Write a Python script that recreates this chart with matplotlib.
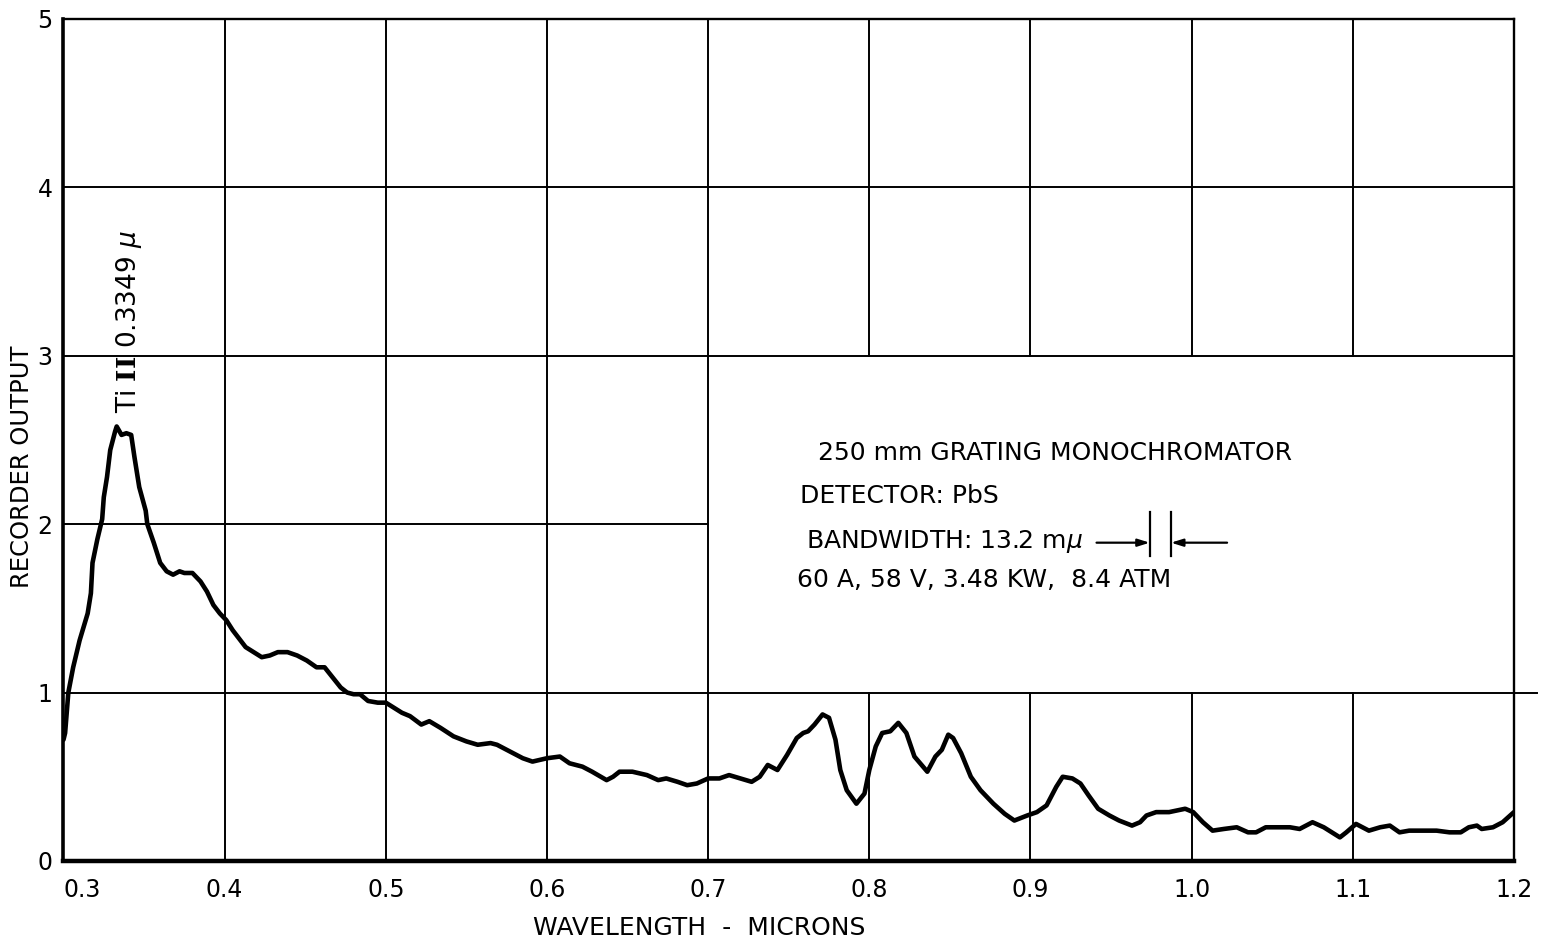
import matplotlib.pyplot as plt

# PbS detector response of the 250 mm grating monochromator
wavelength = [
    0.300, 0.301, 0.303, 0.306, 0.310, 0.315, 0.317, 0.318, 0.321, 0.324,
    0.325, 0.327, 0.329, 0.332, 0.333, 0.336, 0.339, 0.342, 0.344, 0.347,
    0.351, 0.352, 0.356, 0.360, 0.364, 0.368, 0.372, 0.375, 0.380, 0.385,
    0.389, 0.393, 0.397, 0.401, 0.405, 0.413, 0.418, 0.423, 0.428, 0.433,
    0.439, 0.445, 0.451, 0.457, 0.462, 0.467, 0.472, 0.476, 0.480, 0.484,
    0.489, 0.495, 0.500, 0.505, 0.510, 0.515, 0.522, 0.527, 0.534, 0.542,
    0.550, 0.557, 0.565, 0.569, 0.577, 0.585, 0.591, 0.600, 0.608, 0.614,
    0.622, 0.628, 0.637, 0.641, 0.645, 0.653, 0.662, 0.669, 0.674, 0.681,
    0.687, 0.693, 0.700, 0.707, 0.713, 0.720, 0.727, 0.732, 0.737, 0.743,
    0.749, 0.755, 0.759, 0.762, 0.766, 0.771, 0.775, 0.779, 0.782, 0.786,
    0.792, 0.797, 0.800, 0.804, 0.808, 0.813, 0.818, 0.823, 0.828, 0.836,
    0.841, 0.845, 0.849, 0.852, 0.857, 0.863, 0.869, 0.877, 0.884, 0.890,
    0.898, 0.904, 0.910, 0.916, 0.920, 0.926, 0.931, 0.936, 0.942, 0.949,
    0.955, 0.963, 0.968, 0.972, 0.978, 0.986, 0.996, 1.001, 1.007, 1.013,
    1.020, 1.028, 1.035, 1.040, 1.046, 1.054, 1.061, 1.067, 1.075, 1.082,
    1.092, 1.096, 1.102, 1.110, 1.117, 1.123, 1.129, 1.135, 1.143, 1.152,
    1.160, 1.167, 1.172, 1.177, 1.180, 1.187, 1.193, 1.200,
]
output = [
    0.72, 0.76, 1.00, 1.15, 1.31, 1.47, 1.59, 1.77, 1.91, 2.03,
    2.16, 2.28, 2.44, 2.55, 2.58, 2.53, 2.54, 2.53, 2.40, 2.22,
    2.08, 2.00, 1.89, 1.77, 1.72, 1.70, 1.72, 1.71, 1.71, 1.66,
    1.60, 1.52, 1.47, 1.43, 1.37, 1.27, 1.24, 1.21, 1.22, 1.24,
    1.24, 1.22, 1.19, 1.15, 1.15, 1.09, 1.03, 1.00, 0.99, 0.99,
    0.95, 0.94, 0.94, 0.91, 0.88, 0.86, 0.81, 0.83, 0.79, 0.74,
    0.71, 0.69, 0.70, 0.69, 0.65, 0.61, 0.59, 0.61, 0.62, 0.58,
    0.56, 0.53, 0.48, 0.50, 0.53, 0.53, 0.51, 0.48, 0.49, 0.47,
    0.45, 0.46, 0.49, 0.49, 0.51, 0.49, 0.47, 0.50, 0.57, 0.54,
    0.63, 0.73, 0.76, 0.77, 0.81, 0.87, 0.85, 0.72, 0.54, 0.42,
    0.34, 0.40, 0.54, 0.68, 0.76, 0.77, 0.82, 0.76, 0.62, 0.53,
    0.62, 0.66, 0.75, 0.73, 0.64, 0.50, 0.42, 0.34, 0.28, 0.24,
    0.27, 0.29, 0.33, 0.44, 0.50, 0.49, 0.46, 0.39, 0.31, 0.27,
    0.24, 0.21, 0.23, 0.27, 0.29, 0.29, 0.31, 0.29, 0.23, 0.18,
    0.19, 0.20, 0.17, 0.17, 0.20, 0.20, 0.20, 0.19, 0.23, 0.20,
    0.14, 0.17, 0.22, 0.18, 0.20, 0.21, 0.17, 0.18, 0.18, 0.18,
    0.17, 0.17, 0.20, 0.21, 0.19, 0.20, 0.23, 0.29,
]

x_ticks = [0.3, 0.4, 0.5, 0.6, 0.7, 0.8, 0.9, 1.0, 1.1, 1.2]
x_tick_labels = ["0.3", "0.4", "0.5", "0.6", "0.7", "0.8", "0.9", "1.0", "1.1", "1.2"]
y_ticks = [0, 1, 2, 3, 4, 5]

line_peak = 0.3349          # Ti II line, microns
bandwidth = 0.0132          # 13.2 millimicrons
bandwidth_left = 0.974

plt.rcParams['font.family'] = ['DejaVu Sans']
plt.rcParams['mathtext.fontset'] = 'custom'
plt.rcParams['mathtext.rm'] = 'DejaVu Sans'
plt.rcParams['mathtext.it'] = 'DejaVu Sans:italic'
plt.rcParams['mathtext.bf'] = 'DejaVu Serif:bold'

fig = plt.figure(figsize=(15.45, 9.43), dpi=100)
ax = fig.add_axes([0.0411, 0.0870, 0.9388, 0.8929])
ax.set_xlim(0.3, 1.2)
ax.set_ylim(0, 5)

# grid, leaving the notes panel (0.7-1.2, 1-3) open
gkw = dict(color='black', lw=1.4, zorder=1)
for xv in x_ticks[1:-1]:
    if xv < 0.75:
        ax.plot([xv, xv], [0, 5], **gkw)
    else:
        ax.plot([xv, xv], [0, 1], **gkw)
        ax.plot([xv, xv], [3, 5], **gkw)
ax.plot([0.3, 1.2146], [1, 1], clip_on=False, **gkw)
ax.plot([0.3, 0.7], [2, 2], **gkw)
ax.plot([0.3, 1.2], [3, 3], **gkw)
ax.plot([0.3, 1.2], [4, 4], **gkw)

ax.plot(wavelength, output, color='black', lw=3.3, solid_joinstyle='round',
        solid_capstyle='round', zorder=3)

for side in ['top', 'right']:
    ax.spines[side].set_linewidth(1.7)
ax.spines['left'].set_linewidth(2.6)
ax.spines['bottom'].set_linewidth(3.2)

ax.set_xticks(x_ticks)
ax.set_xticklabels(x_tick_labels)
ax.set_yticks(y_ticks)
ax.tick_params(length=0, labelsize=17)
ax.tick_params(axis='x', pad=12)
ax.tick_params(axis='y', pad=8)
ax.get_xticklabels()[0].set_horizontalalignment('left')

fig.text(0.4524, 0.0159, "WAVELENGTH  -  MICRONS", ha='center', va='center', fontsize=18)
fig.text(0.0142, 0.5048, "RECORDER OUTPUT", ha='center', va='center',
         rotation=90, fontsize=17.5)

ax.text(line_peak + 0.006, 2.66, "Ti $\\mathbf{II}$ 0.3349 $\\mu$", rotation=90,
        ha='center', va='bottom', fontsize=19)

note_kw = dict(fontsize=18, va='baseline', ha='left')
ax.text(0.768, 2.381, "250 mm GRATING MONOCHROMATOR", **note_kw)
ax.text(0.757, 2.126, "DETECTOR: PbS", **note_kw)
ax.text(0.761, 1.859, "BANDWIDTH: 13.2 m$\\mu$", **note_kw)
ax.text(0.755, 1.627, "60 A, 58 V, 3.48 KW,  8.4 ATM", **note_kw)

# slit width marker
bw_right = bandwidth_left + bandwidth
ax.plot([bandwidth_left, bandwidth_left], [1.81, 2.07], color='black', lw=1.6)
ax.plot([bw_right, bw_right], [1.81, 2.07], color='black', lw=1.6)
akw = dict(arrowstyle='-|>,head_length=0.7,head_width=0.22', color='black', lw=1.6,
           shrinkA=0, shrinkB=0)
ax.annotate("", xy=(bandwidth_left, 1.89), xytext=(0.941, 1.89), arrowprops=akw)
ax.annotate("", xy=(bw_right, 1.89), xytext=(1.022, 1.89), arrowprops=akw)

fig.savefig("out.png", dpi=100)
